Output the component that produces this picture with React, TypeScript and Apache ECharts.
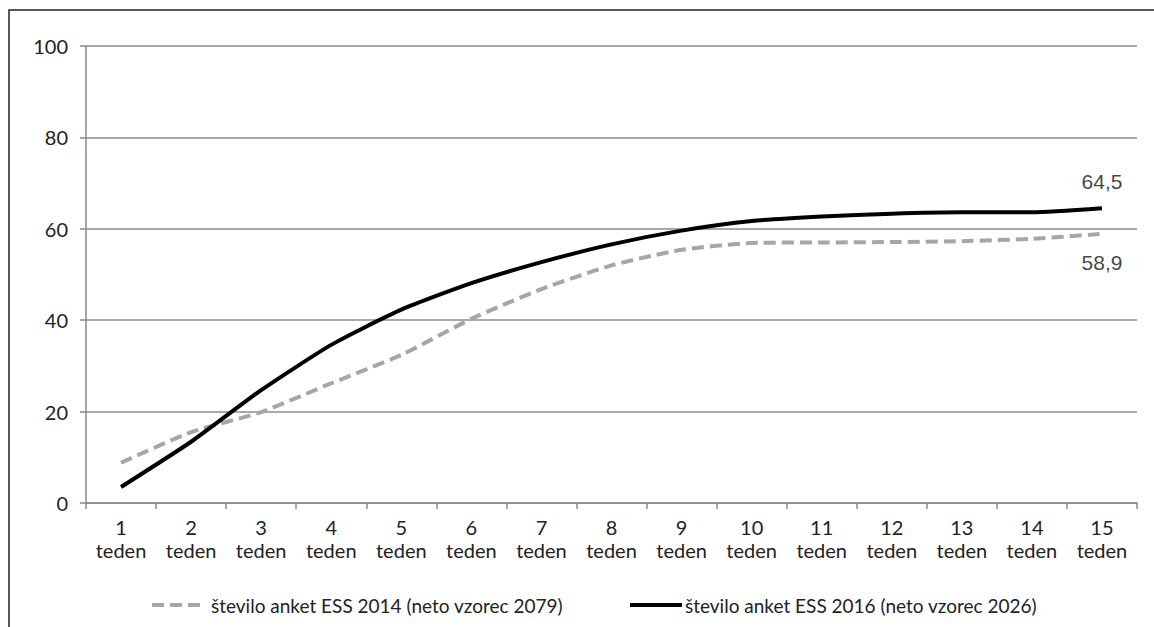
import React, { useEffect, useRef } from "react";
import * as echarts from "echarts";

const weeks = ["1", "2", "3", "4", "5", "6", "7", "8", "9", "10", "11", "12", "13", "14", "15"];
const categories = weeks.map((w) => w + "\nteden");
const ess2014 = [8.8, 15.5, 19.9, 26.2, 32.4, 40.3, 46.8, 52.0, 55.4, 56.9, 57.0, 57.1, 57.3, 57.8, 58.9];
const ess2016 = [3.5, 13.4, 24.7, 34.6, 42.3, 48.1, 52.7, 56.6, 59.6, 61.7, 62.7, 63.3, 63.6, 63.6, 64.5];
const yTicks = [0, 20, 40, 60, 80, 100];
const name2014 = "število anket ESS 2014 (neto vzorec 2079)";
const name2016 = "število anket ESS 2016 (neto vzorec 2026)";

const FONT = "Lato, 'Open Sans', sans-serif";
const LABEL_FONT = "Liberation Sans";
const GRAY = "#a6a6a6";

export default function App() {
  const ref = useRef<HTMLDivElement>(null);
  useEffect(() => {
    document.body.style.margin = "0";
    const chart = echarts.init(ref.current!, null, { renderer: "svg" });
    const last = ess2014.length - 1;
    const labelFmt = (p: any) => String(p.value).replace(".", ",");
    chart.setOption({
      animation: false,
      backgroundColor: "#ffffff",
      textStyle: { fontFamily: FONT },
      grid: { left: 86, right: 17, top: 46, bottom: 124, containLabel: false },
      graphic: [
        {
          type: "rect",
          shape: { x: 9, y: 10, width: 1200, height: 700 },
          style: { fill: "none", stroke: "#222", lineWidth: 1.5 },
          silent: true,
        },
        {
          type: "line",
          shape: { x1: 152, y1: 605, x2: 202, y2: 605 },
          style: { stroke: GRAY, lineWidth: 4, lineDash: [12, 6] },
          silent: true,
        },
        {
          type: "text",
          x: 211,
          y: 605,
          style: { text: name2014, fill: "#222", font: "19px " + FONT, textVerticalAlign: "middle" },
          silent: true,
        },
        {
          type: "line",
          shape: { x1: 630, y1: 605, x2: 682, y2: 605 },
          style: { stroke: "#000", lineWidth: 4 },
          silent: true,
        },
        {
          type: "text",
          x: 685,
          y: 605,
          style: { text: name2016, fill: "#222", font: "19px " + FONT, textVerticalAlign: "middle" },
          silent: true,
        },
      ],
      xAxis: {
        type: "category",
        data: categories,
        boundaryGap: true,
        axisLine: { lineStyle: { color: "#888", width: 1.5 } },
        axisTick: { show: true, length: 6, alignWithLabel: false, lineStyle: { color: "#888", width: 1.5 } },
        axisLabel: {
          interval: 0,
          margin: 12,
          color: "#222",
          fontFamily: FONT,
          fontSize: 20,
          lineHeight: 23,
        },
      },
      yAxis: {
        type: "value",
        min: 0,
        max: 100,
        interval: 20,
        axisLine: { show: true, lineStyle: { color: "#888", width: 1.5 } },
        axisTick: { show: true, length: 6, lineStyle: { color: "#888", width: 1.5 } },
        splitLine: { lineStyle: { color: "#8c8c8c", width: 1.5 } },
        axisLabel: {
          margin: 18,
          color: "#222",
          fontFamily: FONT,
          fontSize: 20,
          formatter: (v: number) => (yTicks.includes(v) ? String(v) : ""),
        },
      },
      series: [
        {
          name: name2014,
          type: "line",
          data: ess2014,
          smooth: 0.2,
          symbol: "none",
          lineStyle: { color: GRAY, width: 4, type: [12, 6] },
          itemStyle: { color: GRAY },
          z: 2,
        },
        {
          name: name2016,
          type: "line",
          data: ess2016,
          smooth: 0.2,
          symbol: "none",
          lineStyle: { color: "#000000", width: 4 },
          itemStyle: { color: "#000000" },
          z: 3,
        },
        {
          name: "labels2014",
          type: "scatter",
          data: ess2014.map((v, i) => (i === last ? v : null)),
          symbolSize: 0,
          silent: true,
          label: {
            show: true,
            position: "bottom",
            distance: 18,
            color: "#111",
            fontFamily: LABEL_FONT,
            fontSize: 21,
            formatter: labelFmt,
          },
        },
        {
          name: "labels2016",
          type: "scatter",
          data: ess2016.map((v, i) => (i === last ? v : null)),
          symbolSize: 0,
          silent: true,
          label: {
            show: true,
            position: "top",
            distance: 16,
            color: "#111",
            fontFamily: LABEL_FONT,
            fontSize: 21,
            formatter: labelFmt,
          },
        },
      ],
    });
    return () => chart.dispose();
  }, []);
  return <div ref={ref} style={{ width: 1154, height: 627 }} />;
}
